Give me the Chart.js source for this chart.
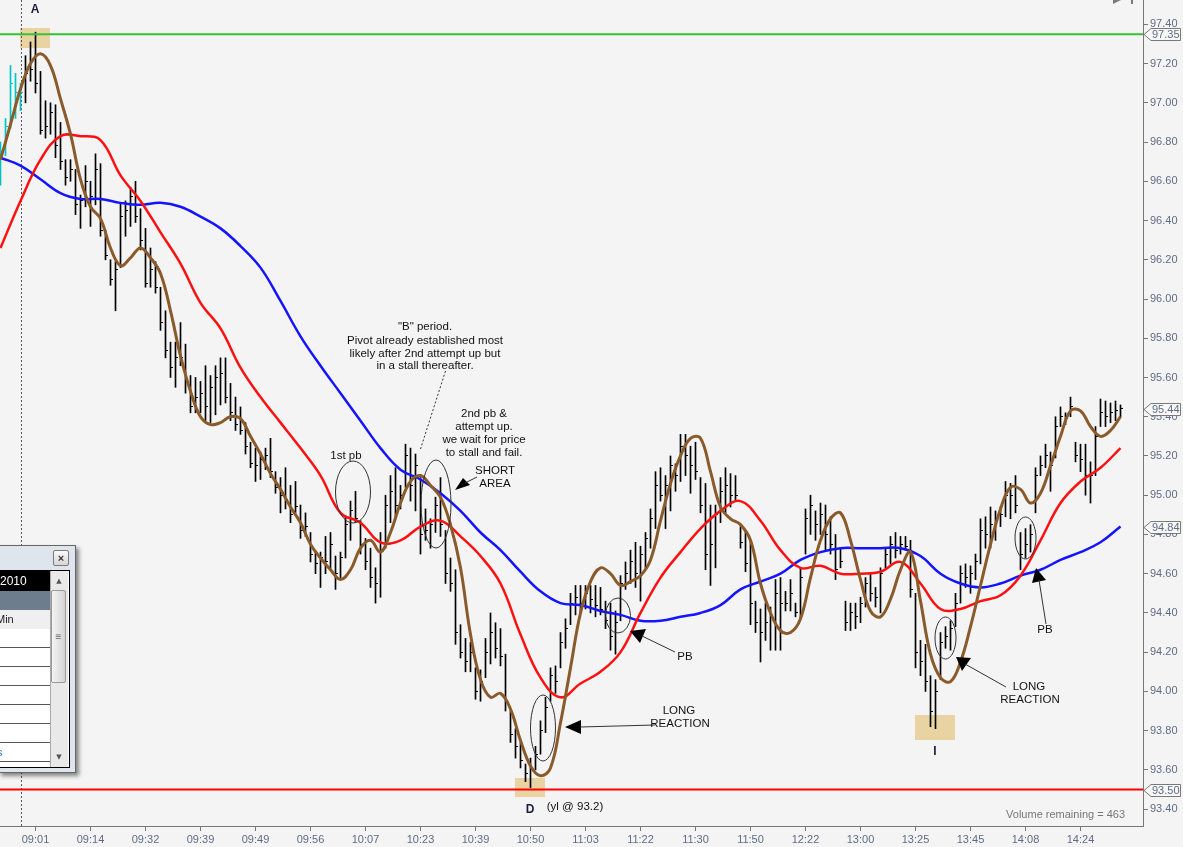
<!DOCTYPE html>
<html><head><meta charset="utf-8">
<script src="https://cdn.jsdelivr.net/npm/chart.js@4.4.1/dist/chart.umd.min.js"></script>
<style>
html,body{margin:0;padding:0;background:#f4f4f4;overflow:hidden}
#wrap{position:relative;width:1183px;height:847px;overflow:hidden}
canvas{display:block}
.a{position:absolute;box-sizing:border-box}
#frame{left:-2px;top:545px;width:78px;height:228px;background:#dfe5ec;border:1px solid #666;box-shadow:3px 3px 4px rgba(0,0,0,.45)}
#pclose{left:53px;top:550px;width:16px;height:16px;border:1px solid #7a7a7a;border-radius:2px;background:linear-gradient(#fafafa,#d6d6d6);font:bold 11px/14px "Liberation Sans",Arial;text-align:center;color:#333}
#inner{left:-1px;top:570px;width:71px;height:198px;border:1px solid #000;background:#fff}
#blk{left:0;top:571px;width:50px;height:20px;background:#000;color:#fff;font:12px/20px "Liberation Sans",Arial;overflow:hidden;white-space:nowrap}
#slate{left:0;top:591px;width:50px;height:19px;background:#6d7d8e}
#hdr{left:0;top:610px;width:50px;height:20px;background:#efefef;border-bottom:1px solid #555;font:11px/19px "Liberation Sans",Arial;color:#222;overflow:hidden;white-space:nowrap}
.row{left:0;width:50px;height:19px;background:#fff;border-bottom:1px solid #555;overflow:hidden;font:11px/18px "Liberation Sans",Arial;color:#1a7fd4}
#sb{left:50px;top:571px;width:18px;height:196px;background:#e9e9e9;border-left:1px solid #aaa}
#thumb{left:51px;top:590px;width:15px;height:93px;border:1px solid #999;border-radius:2px;background:linear-gradient(90deg,#f4f4f4,#d4d4d4);font:10px/91px "Liberation Sans",Arial;text-align:center;color:#666}
.arr{left:51px;width:16px;height:10px;font:7px/10px "DejaVu Sans";text-align:center;color:#555}
</style></head><body>
<div id="wrap"><canvas id="c" width="1183" height="847"></canvas>
<div class="a" id="frame"></div>
<div class="a" id="pclose">×</div>
<div class="a" id="inner"></div>
<div class="a" id="blk">2010</div>
<div class="a" id="slate"></div>
<div class="a" id="hdr"><span style="margin-left:-4px">Min</span></div>
<div class="a row" style="top:629px"></div>
<div class="a row" style="top:648px"></div>
<div class="a row" style="top:667px"></div>
<div class="a row" style="top:686px"></div>
<div class="a row" style="top:705px"></div>
<div class="a row" style="top:724px"></div>
<div class="a row" style="top:743px"><span style="margin-left:-3px">s</span></div>
<div class="a" id="sb"></div>
<div class="a arr" style="top:576px">▲</div>
<div class="a" id="thumb">≡</div>
<div class="a arr" style="top:752px">▼</div>
</div>
<script>
// ---------- DATA ----------
const FIRST_BAR = -7;          // bar index of first bar (09:01 bar = 0)
const CYAN_BARS = 5;           // first bars drawn in cyan (previous session)
const highs = [96.80,96.92,97.19,97.15,97.10,97.24,97.31,97.36,97.16,97.01,97.00,96.99,96.90,96.71,96.71,96.66,96.53,96.68,96.60,96.74,
96.69,96.35,96.20,96.19,96.49,96.50,96.57,96.60,96.46,96.36,96.26,96.19,96.06,95.94,95.78,95.78,95.88,95.77,95.61,95.60,
95.58,95.66,95.61,95.66,95.70,95.70,95.57,95.50,95.45,95.37,95.27,95.24,95.22,95.24,95.29,95.12,95.09,95.14,95.05,95.07,
94.95,94.91,94.81,94.71,94.71,94.79,94.81,94.69,94.71,94.89,94.97,95.02,94.87,94.78,94.73,94.63,94.81,95.00,95.10,95.14,
95.05,95.26,95.24,95.21,95.09,94.93,94.88,94.99,95.09,94.82,94.68,94.62,94.34,94.27,94.25,94.12,94.11,94.27,94.40,94.35,
94.32,94.19,93.90,93.81,93.74,93.63,93.66,93.72,93.85,93.97,94.12,94.13,94.30,94.37,94.50,94.54,94.54,94.54,94.54,94.54,
94.53,94.46,94.45,94.41,94.59,94.66,94.72,94.76,94.74,94.81,94.93,95.12,95.14,95.10,95.20,95.16,95.31,95.31,95.25,95.27,
95.09,95.06,94.95,94.95,95.09,95.14,95.11,95.10,94.84,94.82,94.77,94.46,94.42,94.45,94.43,94.57,94.58,94.51,94.57,94.45,
94.63,94.93,95.00,94.92,94.96,94.95,94.89,94.80,94.73,94.46,94.45,94.45,94.48,94.58,94.60,94.53,94.63,94.73,94.79,94.81,
94.79,94.79,94.77,94.50,94.26,94.24,94.08,94.06,94.30,94.33,94.36,94.50,94.64,94.65,94.64,94.70,94.88,94.89,94.94,94.92,
94.94,95.07,95.06,95.10,94.81,94.83,94.85,95.14,95.20,95.26,95.22,95.40,95.45,95.42,95.50,95.27,95.26,95.26,95.17,95.35,
95.49,95.48,95.47,95.48,95.46];
const lows = [96.58,96.73,96.87,96.92,96.96,97.00,97.11,97.05,96.84,96.82,96.84,96.72,96.66,96.58,96.60,96.43,96.36,96.47,96.37,96.48,
96.32,96.20,96.07,95.94,96.16,96.32,96.37,96.39,96.25,96.06,96.06,96.03,95.84,95.70,95.60,95.55,95.66,95.52,95.42,95.42,
95.42,95.38,95.37,95.41,95.46,95.47,95.38,95.33,95.31,95.21,95.14,95.07,95.08,95.13,95.09,95.01,94.91,94.93,94.86,94.91,
94.78,94.79,94.66,94.60,94.53,94.60,94.62,94.52,94.58,94.68,94.77,94.86,94.70,94.62,94.53,94.45,94.48,94.73,94.86,94.89,
94.93,95.04,94.97,94.92,94.70,94.77,94.73,94.81,94.79,94.55,94.51,94.24,94.17,94.10,94.10,93.96,93.95,94.07,94.14,94.17,
94.13,93.90,93.74,93.66,93.61,93.54,93.51,93.60,93.68,93.79,93.95,93.99,94.12,94.22,94.34,94.39,94.40,94.42,94.40,94.38,
94.39,94.32,94.21,94.19,94.36,94.52,94.55,94.53,94.46,94.63,94.73,94.83,94.97,94.83,94.92,95.02,95.07,95.10,95.01,95.08,
94.91,94.62,94.54,94.63,94.86,94.91,94.94,94.97,94.73,94.61,94.34,94.30,94.15,94.26,94.21,94.21,94.21,94.41,94.41,94.38,
94.37,94.70,94.80,94.77,94.80,94.72,94.70,94.57,94.63,94.31,94.31,94.32,94.35,94.43,94.46,94.43,94.40,94.63,94.65,94.68,
94.70,94.72,94.48,94.12,94.08,94.00,93.82,93.81,94.06,94.22,94.21,94.33,94.45,94.53,94.50,94.57,94.65,94.73,94.73,94.77,
94.84,94.89,94.88,94.91,94.62,94.68,94.71,94.91,95.10,95.14,95.02,95.19,95.35,95.36,95.40,95.17,95.12,95.00,94.96,95.10,
95.35,95.35,95.37,95.38,95.40];
const closes = [96.75,96.88,97.10,97.05,97.05,97.15,97.17,97.10,96.86,96.88,96.95,96.78,96.70,96.62,96.66,96.48,96.50,96.60,96.52,96.66,
96.35,96.22,96.10,96.15,96.42,96.45,96.52,96.42,96.30,96.08,96.15,96.06,95.88,95.74,95.65,95.70,95.70,95.58,95.45,95.50,
95.52,95.45,95.55,95.60,95.62,95.50,95.42,95.36,95.33,95.25,95.16,95.15,95.18,95.20,95.12,95.04,95.00,94.98,94.90,94.94,
94.82,94.84,94.70,94.65,94.68,94.66,94.75,94.60,94.68,94.85,94.92,94.88,94.75,94.66,94.58,94.55,94.76,94.95,95.02,94.95,
95.00,95.20,95.05,95.15,94.80,94.82,94.85,94.95,94.85,94.60,94.55,94.30,94.20,94.15,94.20,94.00,94.05,94.20,94.30,94.22,
94.18,93.95,93.78,93.72,93.65,93.58,93.60,93.68,93.80,93.92,94.08,94.05,94.25,94.32,94.45,94.48,94.45,94.50,94.47,94.44,
94.42,94.36,94.28,94.35,94.55,94.60,94.66,94.60,94.70,94.78,94.88,95.05,95.00,95.05,95.15,95.10,95.25,95.20,95.15,95.12,
94.95,94.70,94.75,94.90,95.02,95.05,95.00,95.00,94.76,94.65,94.45,94.35,94.30,94.35,94.38,94.50,94.45,94.45,94.50,94.40,
94.58,94.88,94.95,94.85,94.90,94.80,94.75,94.62,94.66,94.35,94.40,94.38,94.45,94.55,94.50,94.48,94.60,94.70,94.75,94.72,
94.75,94.74,94.52,94.20,94.15,94.05,93.90,94.00,94.25,94.28,94.32,94.45,94.60,94.58,94.60,94.66,94.82,94.80,94.85,94.88,
94.90,95.00,95.00,94.95,94.70,94.75,94.80,95.10,95.15,95.20,95.15,95.35,95.40,95.40,95.45,95.20,95.18,95.10,95.10,95.30,
95.42,95.40,95.42,95.43,95.44];

// fast (brown) average, sampled every 2 bars starting at bar -7
const FAST_START = -7, FAST_STEP = 2;
const maFast = [96.71,96.89,97.07,97.20,97.25,97.19,97.02,96.84,96.61,96.47,96.41,96.26,96.17,96.21,96.26,96.21,96.13,95.94,95.71,95.53,
95.40,95.36,95.37,95.40,95.39,95.30,95.21,95.11,95.03,94.94,94.86,94.75,94.68,94.62,94.57,94.62,94.73,94.77,94.71,94.81,
94.96,95.07,95.10,95.05,94.99,94.85,94.63,94.29,94.06,93.97,93.99,93.91,93.75,93.62,93.57,93.61,93.84,94.12,94.40,94.56,
94.63,94.60,94.54,94.56,94.59,94.67,94.87,95.06,95.20,95.29,95.29,95.12,94.94,94.88,94.85,94.77,94.55,94.40,94.31,94.30,
94.37,94.58,94.77,94.88,94.91,94.77,94.57,94.41,94.38,94.47,94.62,94.71,94.46,94.19,94.07,94.05,94.15,94.33,94.54,94.75,
94.93,95.04,95.03,94.96,95.01,95.15,95.30,95.43,95.43,95.35,95.30,95.33,95.40];
// medium (red) and slow (blue) averages, sampled every 4 bars starting at bar -7
const SLOW_START = -7, SLOW_STEP = 4;
const maMid = [96.26,96.50,96.71,96.83,96.83,96.81,96.63,96.50,96.34,96.18,95.98,95.85,95.65,95.50,95.37,95.24,95.10,94.91,94.86,94.76,
94.77,94.84,94.87,94.79,94.69,94.55,94.29,94.07,93.97,94.04,94.10,94.20,94.40,94.58,94.71,94.83,94.92,94.97,94.87,94.72,
94.63,94.64,94.60,94.60,94.61,94.66,94.55,94.42,94.42,94.46,94.49,94.59,94.77,94.96,95.07,95.14,95.24];
const maSlow = [96.72,96.68,96.61,96.54,96.51,96.51,96.49,96.48,96.49,96.47,96.42,96.36,96.27,96.16,95.99,95.81,95.66,95.52,95.38,95.24,
95.13,95.08,95.01,94.92,94.81,94.72,94.61,94.51,94.45,94.44,94.41,94.39,94.36,94.36,94.38,94.40,94.44,94.52,94.56,94.60,
94.67,94.71,94.73,94.73,94.73,94.73,94.69,94.60,94.55,94.53,94.55,94.59,94.62,94.67,94.71,94.76,94.84];

const LEVEL_HIGH = 97.35, LEVEL_LOW = 93.50;
const priceTags = [97.35, 95.44, 94.84, 93.50];
const xTickPos = [0,11,22,33,44,55,66,77,88,99,110,121,132,143,154,165,176,187,198,209];
const xTickLabels = ['09:01','09:14','09:32','09:39','09:49','09:56','10:07','10:23','10:39','10:50','11:03','11:22','11:30','11:50','12:22','13:00','13:25','13:45','14:08','14:24'];
const yTicks = [93.4,93.6,93.8,94.0,94.2,94.4,94.6,94.8,95.0,95.2,95.4,95.6,95.8,96.0,96.2,96.4,96.6,96.8,97.0,97.2,97.4];

// ---------- CHART ----------
const X_MIN = -7.1, X_MAX = 221.5, Y_MIN = 93.314, Y_MAX = 97.524;
const FONT = '"Liberation Sans", Arial, sans-serif';
const AXIS_TXT = '#5f6b85';
Chart.defaults.font.family = FONT;
Chart.defaults.font.size = 11;

function tickImg(color, right){
  const c = document.createElement('canvas'); c.width = 5; c.height = 1;
  const g = c.getContext('2d'); g.fillStyle = color; g.fillRect(right ? 3 : 0, 0, 2, 1); return c;
}
const tickBlack = tickImg('#000', true), tickCyan = tickImg('#00c4c4', true);

const xs = highs.map((_, i) => FIRST_BAR + i);

function ellipse(ctx, cx, cy, rx, ry){ ctx.beginPath(); ctx.ellipse(cx, cy, rx, ry, 0, 0, Math.PI*2); ctx.stroke(); }
function tri(ctx, p){ ctx.beginPath(); ctx.moveTo(p[0],p[1]); ctx.lineTo(p[2],p[3]); ctx.lineTo(p[4],p[5]); ctx.closePath(); ctx.fill(); }
function seg(ctx, x1, y1, x2, y2){ ctx.beginPath(); ctx.moveTo(x1,y1); ctx.lineTo(x2,y2); ctx.stroke(); }
function txt(ctx, s, x, y){ ctx.fillText(s, x, y); }

const annot = {
  id: 'annot',
  beforeDraw(chart){
    const ctx = chart.ctx; ctx.save(); ctx.fillStyle = '#f4f4f4'; ctx.fillRect(0,0,chart.width,chart.height); ctx.restore();
  },
  beforeDatasetsDraw(chart){
    const ctx = chart.ctx, a = chart.chartArea;
    ctx.save();
    ctx.fillStyle = 'rgba(228,190,112,0.62)';
    ctx.fillRect(a.left+20, a.top+28, 30, 20);
    ctx.fillRect(a.left+515, a.top+778, 30, 19);
    ctx.fillRect(a.left+915, a.top+715, 40, 25);
    ctx.strokeStyle = '#555'; ctx.lineWidth = 1; ctx.setLineDash([2,2]);
    const xd = chart.scales.x.getPixelForValue(-3);
    seg(ctx, Math.round(xd)+0.5, a.top, Math.round(xd)+0.5, a.bottom);
    ctx.restore();
  },
  afterDatasetsDraw(chart){
    const ctx = chart.ctx, a = chart.chartArea, L = a.left, T = a.top;
    ctx.save();
    ctx.translate(L, T);
    ctx.strokeStyle = '#333'; ctx.lineWidth = 1;
    ellipse(ctx, 353, 492, 17.5, 31);
    ellipse(ctx, 436, 504, 15, 44);
    ellipse(ctx, 543, 728, 12.5, 33);
    ellipse(ctx, 618, 615.5, 12.5, 17.5);
    ellipse(ctx, 945.5, 638, 10.5, 21);
    ellipse(ctx, 1025.5, 538, 10.5, 21);
    // dotted pointer from text
    ctx.setLineDash([2,2]);
    seg(ctx, 445.5, 371, 420.5, 449);
    ctx.setLineDash([]);
    // arrows
    ctx.fillStyle = '#000'; ctx.strokeStyle = '#333';
    tri(ctx, [455,490, 463,478, 470,485]); seg(ctx, 465,483, 477,477);
    tri(ctx, [565,727, 581,720, 581,734]); seg(ctx, 580,727, 655,725);
    tri(ctx, [630,631, 646,629, 640,643]); seg(ctx, 642,636, 675,652);
    tri(ctx, [956,657, 971,658, 962,671]); seg(ctx, 965,664, 1006,687);
    tri(ctx, [1036,568, 1032,583, 1046,580]); seg(ctx, 1039,580, 1046,624);
    // texts
    ctx.fillStyle = '#111'; ctx.textAlign = 'center'; ctx.textBaseline = 'middle';
    ctx.font = '11.5px ' + FONT;
    txt(ctx, '"B" period.', 425, 327);
    txt(ctx, 'Pivot already established most', 425, 341);
    txt(ctx, 'likely after 2nd attempt up but', 425, 354);
    txt(ctx, 'in a stall thereafter.', 425, 366);
    txt(ctx, '2nd pb &', 484, 414);
    txt(ctx, 'attempt up.', 484, 427);
    txt(ctx, 'we wait for price', 484, 440);
    txt(ctx, 'to stall and fail.', 484, 453);
    txt(ctx, '1st pb', 346, 456);
    txt(ctx, 'SHORT', 495, 471);
    txt(ctx, 'AREA', 495, 484);
    txt(ctx, 'LONG', 679, 711);
    txt(ctx, 'REACTION', 680, 724);
    txt(ctx, 'PB', 685, 657);
    txt(ctx, 'LONG', 1029, 687);
    txt(ctx, 'REACTION', 1030, 700);
    txt(ctx, 'PB', 1045, 630);
    txt(ctx, '(yl @ 93.2)', 575, 807);
    ctx.font = 'bold 12px ' + FONT; ctx.fillStyle = '#1c1c3c';
    txt(ctx, 'A', 35, 10);
    txt(ctx, 'D', 530, 810);
    txt(ctx, 'I', 935, 752);
    ctx.font = '11px ' + FONT; ctx.fillStyle = '#777'; ctx.textAlign = 'right';
    txt(ctx, 'Volume remaining = 463', 1125, 815);
    ctx.restore();
  },
  afterDraw(chart){
    const ctx = chart.ctx, y = chart.scales.y, x0 = chart.chartArea.right + 1;
    ctx.save();
    ctx.font = '11px ' + FONT; ctx.textBaseline = 'middle'; ctx.textAlign = 'left';
    priceTags.forEach(v => {
      const py = Math.round(y.getPixelForValue(v)) + 0.5;
      ctx.beginPath();
      ctx.moveTo(x0, py); ctx.lineTo(x0+7, py-6); ctx.lineTo(1180.5, py-6); ctx.lineTo(1180.5, py+6); ctx.lineTo(x0+7, py+6); ctx.closePath();
      ctx.fillStyle = '#f7f7f7'; ctx.fill(); ctx.strokeStyle = '#7a7a7a'; ctx.lineWidth = 1; ctx.stroke();
      ctx.fillStyle = AXIS_TXT; ctx.fillText(v.toFixed(2), x0+8, py);
    });
    // small top-right glyphs
    ctx.fillStyle = '#7a7a7a';
    tri(ctx, [1113,0, 1121,0, 1113,4]);
    ctx.fillRect(1131, 0, 2, 4);
    ctx.restore();
  }
};

const axisCommon = {
  grid: { display: true, drawOnChartArea: false, drawTicks: true, tickLength: 5, color: '#777', offset: false },
  border: { display: true, color: '#777', width: 1 },
};
function noPad(s){ s.paddingTop = 0; s.paddingBottom = 0; s.paddingLeft = 0; s.paddingRight = 0; }

new Chart(document.getElementById('c'), {
  type: 'line',
  data: {
    datasets: [
      { type: 'line', data: maFast.map((v, i) => ({ x: FAST_START + FAST_STEP * i, y: v })), borderColor: '#8a5a2a', borderWidth: 3, pointRadius: 0, tension: 0.4 },
      { type: 'line', data: maMid.map((v, i) => ({ x: SLOW_START + SLOW_STEP * i, y: v })), borderColor: '#ff1010', borderWidth: 2.5, pointRadius: 0, tension: 0.4 },
      { type: 'line', data: maSlow.map((v, i) => ({ x: SLOW_START + SLOW_STEP * i, y: v })), borderColor: '#1414ff', borderWidth: 2.5, pointRadius: 0, tension: 0.4 },
      { type: 'line', data: [{ x: X_MIN, y: LEVEL_HIGH }, { x: X_MAX, y: LEVEL_HIGH }], borderColor: '#33c433', borderWidth: 2, pointRadius: 0 },
      { type: 'line', data: [{ x: X_MIN, y: LEVEL_LOW }, { x: X_MAX, y: LEVEL_LOW }], borderColor: '#ff0000', borderWidth: 2, pointRadius: 0 },
      { type: 'scatter', data: closes.map((v, i) => ({ x: xs[i], y: v })), showLine: false, pointRadius: 2,
        pointStyle: ctx => ctx.dataIndex < CYAN_BARS ? tickCyan : tickBlack },
      { type: 'bar', data: highs.map((h, i) => ({ x: xs[i], y: [lows[i], h] })), barThickness: 1, grouped: false, borderWidth: 0,
        backgroundColor: ctx => ctx.dataIndex < CYAN_BARS ? '#00c4c4' : '#000' },
    ]
  },
  options: {
    responsive: false, devicePixelRatio: 1, animation: false,
    layout: { padding: 0, autoPadding: false },
    plugins: { legend: { display: false }, tooltip: { enabled: false } },
    scales: {
      x: Object.assign({
        type: 'linear', position: 'bottom', min: X_MIN, max: X_MAX, offset: false,
        afterBuildTicks: s => { s.ticks = xTickPos.map(v => ({ value: v })); },
        afterFit: s => { s.height = 21; noPad(s); },
        ticks: { autoSkip: false, maxRotation: 0, padding: 2, color: AXIS_TXT,
          callback: v => { const i = xTickPos.indexOf(v); return i >= 0 ? xTickLabels[i] : ''; } },
      }, axisCommon),
      y: Object.assign({
        type: 'linear', position: 'right', min: Y_MIN, max: Y_MAX,
        afterBuildTicks: s => { s.ticks = yTicks.map(v => ({ value: v })); },
        afterFit: s => { s.width = 40; noPad(s); },
        ticks: { padding: 2, color: AXIS_TXT, callback: v => Number(v).toFixed(2) },
      }, axisCommon),
    }
  },
  plugins: [annot]
});
</script>
</body></html>
